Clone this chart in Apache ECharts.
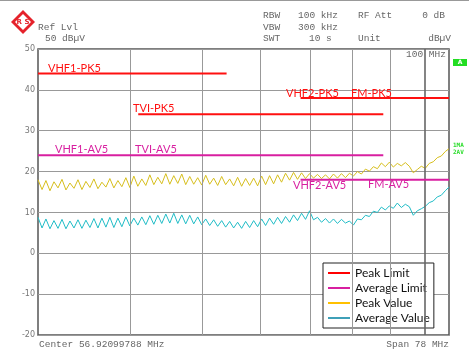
<!DOCTYPE html>
<html>
<head>
<meta charset="utf-8">
<script src="https://cdn.jsdelivr.net/npm/echarts@6/dist/echarts.min.js"></script>
<style>
html, body { margin: 0; padding: 0; background: #fff; }
#chart { width: 469px; height: 350px; }
</style>
</head>
<body>
<div id="chart"></div>
<script>
// sweep points (MHz), log spaced like the analyser display
const freqs = [
  30.00, 30.38, 30.75, 31.14, 31.53, 31.93, 32.33, 32.73, 33.14, 33.56,
  33.98, 34.40, 34.83, 35.27, 35.71, 36.16, 36.61, 37.07, 37.53, 38.00,
  38.48, 38.96, 39.45, 39.94, 40.44, 40.95, 41.46, 41.98, 42.51, 43.04,
  43.58, 44.12, 44.68, 45.24, 45.80, 46.38, 46.96, 47.54, 48.14, 48.74,
  49.35, 49.97, 50.60, 51.23, 51.87, 52.52, 53.18, 53.84, 54.52, 55.20,
  55.89, 56.59, 57.30, 58.02, 58.75, 59.48, 60.23, 60.98, 61.74, 62.52,
  63.30, 64.09, 64.89, 65.71, 66.53, 67.36, 68.21, 69.06, 69.93, 70.80,
  71.69, 72.59, 73.50, 74.42, 75.35, 76.29, 77.24, 78.21, 79.19, 80.18,
  81.19, 82.20, 83.23, 84.27, 85.33, 86.40, 87.48, 88.57, 89.68, 90.80,
  91.94, 93.09, 94.26, 95.44, 96.63, 97.84, 99.07, 100.31, 101.56, 102.83,
  104.12, 105.43, 106.75, 108.00
];

// peak detector trace (dBuV)
const peakValues = [
  18.0, 15.6, 17.8, 15.3, 17.5, 16.0, 18.1, 15.5, 17.2, 15.9,
  18.0, 15.6, 17.6, 16.1, 18.2, 15.8, 17.4, 16.2, 18.3, 16.0,
  17.8, 16.3, 18.5, 16.1, 18.9, 16.4, 18.2, 16.6, 19.2, 16.8,
  18.6, 17.0, 19.5, 16.9, 19.0, 17.1, 19.4, 16.8, 18.8, 16.9,
  18.5, 16.7, 19.1, 16.9, 18.4, 16.6, 18.8, 16.8, 18.2, 16.5,
  18.6, 16.4, 18.3, 16.6, 18.4, 16.5, 18.9, 16.8, 19.0, 17.0,
  19.2, 17.4, 19.6, 17.9, 19.8, 18.1, 19.7, 18.3, 19.5, 18.4,
  19.3, 18.3, 19.2, 18.2, 19.4, 18.4, 19.5, 18.5, 19.6, 18.9,
  20.0, 19.4, 20.6, 20.1, 21.2, 20.7, 22.1, 21.2, 22.3, 21.1,
  22.0, 21.4, 22.2, 21.3, 19.7, 20.5, 21.3, 20.8, 22.0, 22.4,
  23.4, 23.8, 24.9, 25.6
];

// average detector trace (dBuV)
const avgValues = [
  8.8, 6.2, 8.4, 6.0, 8.0, 6.1, 8.3, 6.0, 7.9, 6.2,
  8.2, 6.1, 8.1, 6.3, 8.5, 6.2, 8.6, 6.4, 8.8, 6.3,
  8.6, 6.5, 8.9, 6.7, 8.6, 6.9, 8.9, 7.0, 9.2, 7.1,
  9.3, 7.3, 9.6, 7.4, 9.8, 7.3, 9.4, 7.2, 9.3, 7.2,
  8.9, 7.0, 8.4, 6.8, 8.2, 6.6, 8.0, 6.4, 7.8, 6.2,
  7.6, 6.1, 7.8, 6.3, 8.0, 6.5, 8.4, 6.8, 8.6, 7.1,
  8.8, 7.3, 9.0, 7.6, 9.4, 8.0, 9.8, 8.3, 10.4, 8.2,
  8.8, 7.6, 8.5, 7.4, 8.4, 7.3, 8.3, 7.4, 7.9, 6.9,
  8.4, 8.2, 9.3, 9.0, 10.3, 10.0, 11.3, 10.6, 11.6, 11.0,
  12.3, 11.2, 12.0, 11.4, 9.3, 10.4, 10.9, 11.5, 12.4, 12.8,
  13.8, 14.2, 15.3, 16.2
];

// limit segments: [start MHz, stop MHz, dBuV]
const peakLimits = [[30, 54, 44], [41, 88, 34], [68, 108, 38]];
const avgLimits = [[30, 88, 24], [68, 108, 18]];

const gridFreqs = [40, 50, 60, 70, 80, 90, 100];
const yTicks = { min: -20, max: 50, step: 10 };

const RED = '#ff1010';
const MAGENTA = '#d81fa0';

let chart = echarts.init(document.getElementById('chart'));

function limitSeries(name, segs, color) {
  return segs.map(s => ({
    name: name,
    type: 'line',
    symbol: 'none',
    z: 5,
    color: color,
    lineStyle: { color: color, width: 2 },
    data: [[s[0], s[2]], [s[1], s[2]]]
  }));
}

function hdr(text, x, y, align) {
  return {
    type: 'text', x: x, y: y, silent: true,
    style: { text: text, fill: '#666', font: '9.5px "Liberation Mono"', align: align || 'left', verticalAlign: 'middle' }
  };
}

function lbl(text, x, y, color) {
  return {
    type: 'text', x: x, y: y, silent: true, z: 20,
    style: { text: text, fill: color, font: '11px Lato', verticalAlign: 'middle' }
  };
}

chart.setOption({
  animation: false,
  grid: {
    left: 38, top: 49, width: 411, height: 286,
    show: true, borderColor: '#555', borderWidth: 1.5
  },
  xAxis: {
    type: 'log', logBase: 10, min: 30, max: 108,
    axisLabel: { show: false }, axisTick: { show: false },
    axisLine: { show: false }, splitLine: { show: false }, minorSplitLine: { show: false }
  },
  yAxis: {
    type: 'value', min: yTicks.min, max: yTicks.max, interval: yTicks.step,
    axisLabel: { color: '#777', fontSize: 8, margin: 3, fontFamily: 'DejaVu Sans' },
    axisTick: { show: false },
    axisLine: { show: false },
    splitLine: { lineStyle: { color: '#999', width: 1 } }
  },
  legend: {
    orient: 'vertical', left: 323, top: 263,
    padding: [4, 4, 4, 5], itemGap: 3,
    itemWidth: 22, itemHeight: 2, icon: 'rect',
    backgroundColor: '#fff', borderColor: '#222', borderWidth: 1,
    textStyle: { fontFamily: 'Lato', fontSize: 12, color: '#111', lineHeight: 12 },
    data: [
      { name: 'Peak Limit', itemStyle: { color: '#ff0000' } },
      { name: 'Average Limit', itemStyle: { color: '#d81fa0' } },
      { name: 'Peak Value', itemStyle: { color: '#ffc000' } },
      { name: 'Average Value', itemStyle: { color: '#3fa0b8' } }
    ]
  },
  series: [
    {
      name: 'Peak Value', type: 'line', symbol: 'none', z: 3,
      color: '#d6be1c', lineStyle: { color: '#d6be1c', width: 1 },
      data: freqs.map((f, i) => [f, peakValues[i]]),
      markLine: {
        silent: true, symbol: ['none', 'none'], label: { show: false },
        lineStyle: { color: '#999', type: 'solid', width: 1 },
        data: gridFreqs.map(f => f === 100
          ? { xAxis: f, lineStyle: { color: '#666', width: 1.6, type: 'solid' } }
          : { xAxis: f })
      }
    },
    {
      name: 'Average Value', type: 'line', symbol: 'none', z: 3,
      color: '#1fbcc6', lineStyle: { color: '#1fbcc6', width: 1 },
      data: freqs.map((f, i) => [f, avgValues[i]])
    }
  ].concat(limitSeries('Peak Limit', peakLimits, RED))
   .concat(limitSeries('Average Limit', avgLimits, MAGENTA)),
  graphic: {
    elements: [
      { type: 'line', silent: true, shape: { x1: 0, y1: 0.5, x2: 469, y2: 0.5 }, style: { stroke: '#999', lineWidth: 1 } },
      // R&S logo
      { type: 'polygon', silent: true, shape: { points: [[23, 10], [35, 22], [23, 34], [11, 22]] }, style: { fill: '#e5222b' } },
      { type: 'polygon', silent: true, shape: { points: [[23, 14], [31, 22], [23, 30], [15, 22]] }, style: { fill: '#fff' } },
      { type: 'text', silent: true, x: 23, y: 22, style: { text: 'R S', fill: '#e5222b', font: 'bold 7px "DejaVu Sans"', align: 'center', verticalAlign: 'middle' } },
      hdr('Ref Lvl', 38, 27),
      hdr('50 dBµV', 45, 38),
      hdr('RBW', 263, 15.5),
      hdr('100 kHz', 298, 15.5),
      hdr('RF Att', 358, 15.5),
      hdr('0 dB', 445, 15.5, 'right'),
      hdr('VBW', 263, 27),
      hdr('300 kHz', 298, 27),
      hdr('SWT', 263, 38),
      hdr('10 s', 309, 38),
      hdr('Unit', 358, 38),
      hdr('dBµV', 451, 38, 'right'),
      hdr('100 MHz', 406, 54),
      hdr('Center 56.92099788 MHz', 39, 344),
      hdr('Span 78 MHz', 449, 344, 'right'),
      { type: 'rect', silent: true, shape: { x: 453, y: 59, width: 14, height: 7 }, style: { fill: '#22dd22' } },
      { type: 'text', silent: true, x: 460, y: 62.5, style: { text: 'A', fill: '#fff', font: 'bold 6px "DejaVu Sans"', align: 'center', verticalAlign: 'middle' } },
      { type: 'text', silent: true, x: 453, y: 145, style: { text: '1MA', fill: '#2ddd2d', font: 'bold 6px "DejaVu Sans Mono"', verticalAlign: 'middle' } },
      { type: 'text', silent: true, x: 453, y: 152, style: { text: '2AV', fill: '#2ddd2d', font: 'bold 6px "DejaVu Sans Mono"', verticalAlign: 'middle' } },
      lbl('VHF1-PK5', 48, 68, RED),
      lbl('TVI-PK5', 133, 108.5, RED),
      lbl('VHF2-PK5', 286, 93, RED),
      lbl('FM-PK5', 351, 93, RED),
      lbl('VHF1-AV5', 55, 149.5, MAGENTA),
      lbl('TVI-AV5', 135, 149.5, MAGENTA),
      lbl('VHF2-AV5', 293, 185.5, MAGENTA),
      lbl('FM-AV5', 368, 184.5, MAGENTA)
    ]
  }
});
</script>
</body>
</html>
